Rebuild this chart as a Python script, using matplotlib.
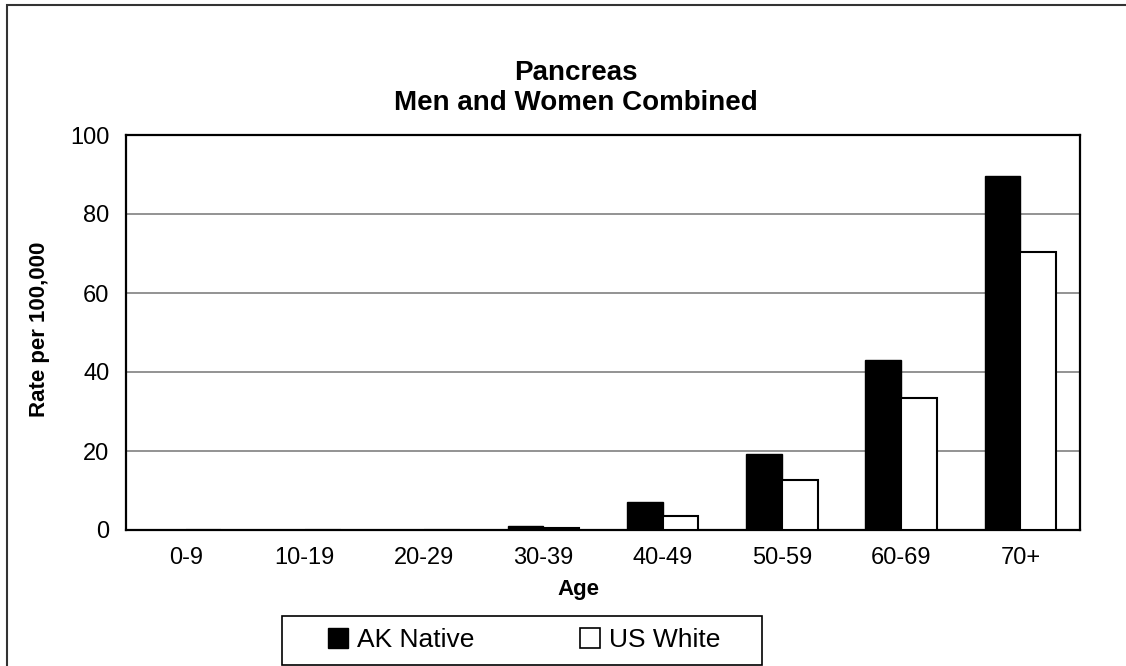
import matplotlib
matplotlib.use("Agg")
import matplotlib.pyplot as plt
import numpy as np
from matplotlib.patches import Rectangle
from matplotlib.lines import Line2D

categories = ["0-9", "10-19", "20-29", "30-39", "40-49", "50-59", "60-69", "70+"]
ak_native = [0.0, 0.0, 0.0, 1.0, 7.1, 19.3, 43.0, 89.7]
us_white = [0.0, 0.0, 0.0, 0.5, 3.5, 12.6, 33.3, 70.3]
yticks = [0, 20, 40, 60, 80, 100]

plt.rcParams['font.family'] = ['Liberation Sans', 'DejaVu Sans']

W, H = 1126, 666
fig = plt.figure(figsize=(W / 100, H / 100), dpi=100)
fig.patch.set_facecolor("white")

ax = fig.add_axes([126 / W, 1 - 530 / H, (1080 - 126) / W, (530 - 135) / H])
x = np.arange(len(categories))
bw = 0.3
ax.bar(x - bw / 2, ak_native, bw, color="black", edgecolor="black", linewidth=1, zorder=3)
ax.bar(x + bw / 2, us_white, bw, color="white", edgecolor="black", linewidth=1.5, zorder=3)

ax.set_xlim(-0.5, len(categories) - 0.5)
ax.set_ylim(0, 100)
ax.set_yticks(yticks)
ax.set_xticks(x)
ax.set_xticklabels(categories, fontsize=17)
ax.tick_params(axis="y", labelsize=17, length=0, pad=12)
ax.tick_params(axis="x", length=0, pad=12)
ax.yaxis.grid(True, color="#808080", linewidth=1.2, zorder=0)
ax.set_axisbelow(True)
for s in ax.spines.values():
    s.set_color("black")
    s.set_linewidth(1.6)

fig.text(578 / W, 1 - 590 / H, "Age", ha="center", va="center", fontsize=16, fontweight="bold")
fig.text(40 / W, 1 - 329 / H, "Rate per 100,000", ha="center", va="center", rotation=90,
         fontsize=16, fontweight="bold")
fig.text(576 / W, 1 - 73 / H, "Pancreas", ha="center", va="center", fontsize=20, fontweight="bold")
fig.text(576 / W, 1 - 103 / H, "Men and Women Combined", ha="center", va="center",
         fontsize=20, fontweight="bold")

# legend
handles = [
    Line2D([], [], marker="s", linestyle="none", markersize=14, markerfacecolor="black",
           markeredgecolor="black"),
    Line2D([], [], marker="s", linestyle="none", markersize=14, markerfacecolor="white",
           markeredgecolor="black", markeredgewidth=1.2),
]
leg = fig.legend(handles, ["AK Native", "US White"], ncol=2, loc="center",
                 bbox_to_anchor=(524 / W, 1 - 640 / H), frameon=False,
                 fontsize=19, handlelength=0.8, handletextpad=0.3, columnspacing=4.0,
                 borderpad=0.3, borderaxespad=0)
fig.add_artist(Rectangle((282 / W, 1.5 / H), (762 - 282) / W, (665 - 616) / H,
                         transform=fig.transFigure, fill=False, edgecolor="black",
                         linewidth=1.2))

# figure border
fig.add_artist(Rectangle((7 / W, -0.1), 1.2, 1 - 5 / H + 0.1, transform=fig.transFigure,
                         fill=False, edgecolor="#333333", linewidth=1.5))

fig.savefig("out.png", dpi=100, facecolor="white")
